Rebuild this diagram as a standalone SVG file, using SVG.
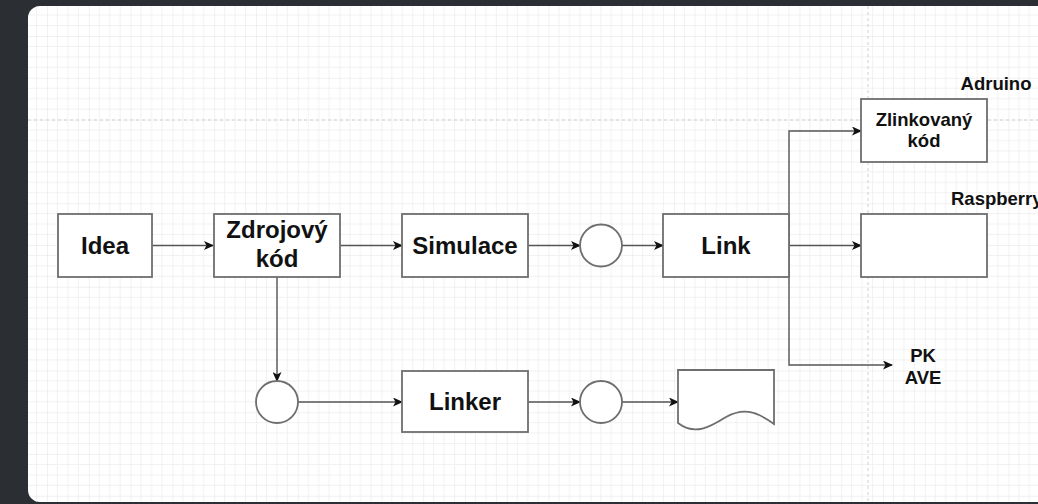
<svg xmlns="http://www.w3.org/2000/svg" width="1038" height="504" viewBox="0 0 1038 504">
<defs>
<style>
.box{fill:#fff;stroke:#6e6e6e;stroke-width:1.8}
.edge{fill:none;stroke:#555;stroke-width:1.4}
.t{font-family:"Liberation Sans",Arial,sans-serif;font-weight:bold;fill:#111;text-anchor:middle}
.big{font-size:24px}
.sm{font-size:18.5px}
</style>
<pattern id="grid" patternUnits="userSpaceOnUse" x="47" y="36" width="41.8" height="41.8">
<path d="M10.45,0V41.8M20.9,0V41.8M31.35,0V41.8M0,10.45H41.8M0,20.9H41.8M0,31.35H41.8" stroke="#f1f1f1" stroke-width="1" fill="none"/>
<path d="M0,0V41.8M0,0H41.8" stroke="#e4e4e4" stroke-width="1" fill="none"/>
</pattern>
<marker id="arr" markerUnits="userSpaceOnUse" markerWidth="10" markerHeight="9" refX="9" refY="4.5" orient="auto">
<path d="M0,0 L10,4.5 L0,9 L2.5,4.5 Z" fill="#111"/>
</marker>
</defs>
<rect x="0" y="0" width="1038" height="504" fill="#2b2f33"/>
<rect x="28" y="6" width="1030" height="496" rx="12" fill="#fff"/>
<rect x="28" y="6" width="1030" height="496" rx="12" fill="url(#grid)"/>
<path d="M28,120H1038" stroke="#cfcfcf" stroke-width="1" stroke-dasharray="3,3"/>
<path d="M868,6V504" stroke="#cfcfcf" stroke-width="1" stroke-dasharray="3,3"/>
<g id="connectors">
<path class="edge" d="M152,245.5H213" marker-end="url(#arr)"/>
<path class="edge" d="M340,245.5H402" marker-end="url(#arr)"/>
<path class="edge" d="M528,245.5H580" marker-end="url(#arr)"/>
<path class="edge" d="M622,245.5H663" marker-end="url(#arr)"/>
<path class="edge" d="M789,245.5V131H861" marker-end="url(#arr)"/>
<path class="edge" d="M789,245.5H861" marker-end="url(#arr)"/>
<path class="edge" d="M789,245.5V365H892" marker-end="url(#arr)"/>
<path class="edge" d="M277,277V381" marker-end="url(#arr)"/>
<path class="edge" d="M298,402H402" marker-end="url(#arr)"/>
<path class="edge" d="M528,402H580" marker-end="url(#arr)"/>
<path class="edge" d="M622,402H678" marker-end="url(#arr)"/>
</g>
<g id="idea"><rect class="box" x="58" y="214" width="94" height="63"/><text class="t big" x="105" y="254">Idea</text></g>
<g id="zdrojovy"><rect class="box" x="214" y="214" width="126" height="63"/><text class="t big" x="277" y="238">Zdrojový</text><text class="t big" x="277" y="267">kód</text></g>
<g id="simulace"><rect class="box" x="402" y="214" width="126" height="63"/><text class="t big" x="465" y="254">Simulace</text></g>
<g id="circle1"><circle class="box" cx="601" cy="245.5" r="21"/></g>
<g id="link"><rect class="box" x="663" y="214" width="126" height="63"/><text class="t big" x="726" y="254">Link</text></g>
<g id="zlinkovany"><rect class="box" x="861" y="99" width="126" height="63"/><text class="t sm" x="924" y="126">Zlinkovaný</text><text class="t sm" x="924" y="147">kód</text></g>
<g id="adruino"><text class="t sm" x="996" y="90">Adruino</text></g>
<g id="raspberry"><rect class="box" x="861" y="214" width="126" height="63"/><text class="t sm" x="951" y="205" style="text-anchor:start">Raspberry</text></g>
<g id="pkave"><text class="t sm" x="923" y="362">PK</text><text class="t sm" x="923" y="384">AVE</text></g>
<g id="circle2"><circle class="box" cx="277" cy="402" r="21"/></g>
<g id="linker"><rect class="box" x="402" y="371" width="126" height="61"/><text class="t big" x="465" y="410">Linker</text></g>
<g id="circle3"><circle class="box" cx="601" cy="402" r="21"/></g>
<g id="document"><path class="box" d="M678,370H774V424C755,410 742,408 726,417C710,427 695,436 678,423Z"/></g>
</svg>
